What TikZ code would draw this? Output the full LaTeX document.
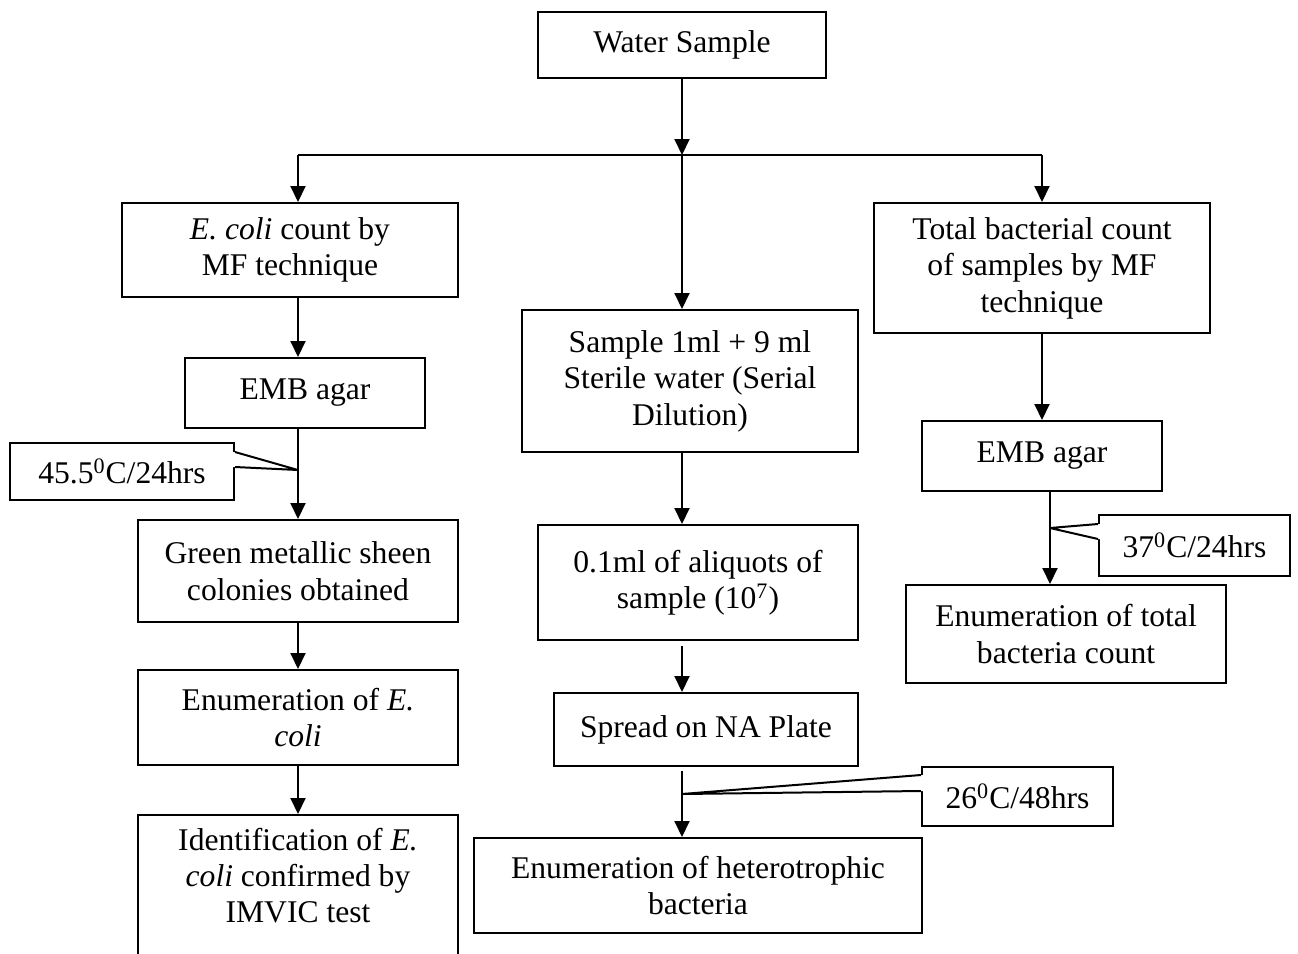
\documentclass[tikz,border=0pt]{standalone}
\usepackage{fontspec}
\setmainfont{Liberation Serif}
\usetikzlibrary{arrows.meta,calc}
\tikzset{
  stepbox/.style={draw=black,line width=1pt,fill=white,align=center,inner sep=0pt,font=\fontsize{15.8}{18.2}\selectfont},
  tempbox/.style={stepbox},
  arr/.style={-{Triangle[length=8pt,width=7.5pt]},line width=1pt},
  link/.style={line width=1pt,line join=round}
}
\begin{document}
\begin{tikzpicture}[x=0.5pt,y=-0.5pt]
\path[use as bounding box,fill=white] (0,0) rectangle (1298,954);
\clip (0,0) rectangle (1298,954);

\coordinate (colL) at (298,0);
\coordinate (colM) at (682,0);
\coordinate (colR) at (1042,0);
\coordinate (split) at (682,155);
\coordinate (splitL) at (298,155);
\coordinate (splitR) at (1042,155);
\coordinate (tip1) at (298,470);
\coordinate (tip2) at (1050,528);
\coordinate (tip3) at (682,794);

\node[stepbox,minimum width=144pt,minimum height=33pt] (ws) at (682,45) {Water Sample};

\node[stepbox,minimum width=168pt,minimum height=47pt] (ecoli) at (290,250) {\textit{E. coli} count by\\ MF technique};
\node[stepbox,minimum width=120pt,minimum height=35pt] (emb1) at (305,393) {EMB agar};
\node[tempbox,minimum width=112pt,minimum height=28.5pt] (t1) at (122,471.5) {45.5\textsuperscript{0}C/24hrs};
\node[stepbox,minimum width=160pt,minimum height=51pt] (green) at (298,571) {Green metallic sheen\\ colonies obtained};
\node[stepbox,minimum width=160pt,minimum height=47.5pt] (enum1) at (298,717.5) {Enumeration of \textit{E.}\\ \textit{coli}};
\node[stepbox,minimum width=160pt,minimum height=84pt] (ident) at (298,899) {Identification of \textit{E.}\\ \textit{coli} confirmed by\\ IMVIC test\\ \strut};

\node[stepbox,minimum width=168pt,minimum height=71pt] (dil) at (690,381) {Sample 1ml + 9 ml\\ Sterile water (Serial\\ Dilution)};
\node[stepbox,minimum width=160pt,minimum height=57.5pt] (aliq) at (698,582.5) {0.1ml of aliquots of\\ sample (10\textsuperscript{7})};
\node[stepbox,minimum width=152pt,minimum height=36.5pt] (spread) at (706,729.5) {Spread on NA Plate};
\node[tempbox,minimum width=95.5pt,minimum height=29.5pt] (t3) at (1017.5,796.5) {26\textsuperscript{0}C/48hrs};
\node[stepbox,minimum width=224pt,minimum height=47.5pt] (het) at (698,885.5) {Enumeration of heterotrophic\\ bacteria};

\node[stepbox,minimum width=168pt,minimum height=65pt] (total) at (1042,268) {Total bacterial count\\ of samples by MF\\ technique};
\node[stepbox,minimum width=120pt,minimum height=35pt] (emb2) at (1042,456) {EMB agar};
\node[tempbox,minimum width=95.5pt,minimum height=30.5pt] (t2) at (1194.5,545.5) {37\textsuperscript{0}C/24hrs};
\node[stepbox,minimum width=160pt,minimum height=49pt] (enum2) at (1066,634) {Enumeration of total\\ bacteria count};

\fill[white] ($(t1.north east)+(-4,10)$) -- ($(t1.north east)+(0,10)$) -- (tip1) -- ($(t1.north east)+(0,25)$) -- ($(t1.north east)+(-4,25)$) -- cycle;
\draw[link] ($(t1.north east)+(0,10)$) -- (tip1) -- ($(t1.north east)+(0,25)$);
\fill[white] ($(t2.north west)+(4,10)$) -- ($(t2.north west)+(0,10)$) -- (tip2) -- ($(t2.north west)+(0,25)$) -- ($(t2.north west)+(4,25)$) -- cycle;
\draw[link] ($(t2.north west)+(0,10)$) -- (tip2) -- ($(t2.north west)+(0,25)$);
\fill[white] ($(t3.north west)+(4,9)$) -- ($(t3.north west)+(0,9)$) -- (tip3) -- ($(t3.north west)+(0,25)$) -- ($(t3.north west)+(4,25)$) -- cycle;
\draw[link] ($(t3.north west)+(0,9)$) -- (tip3) -- ($(t3.north west)+(0,25)$);

\draw[arr] (ws.south -| colM) -- (split);
\draw[link] (splitL) -- (splitR);
\draw[arr] (splitL) -- (ecoli.north -| colL);
\draw[arr] (split) -- (dil.north -| colM);
\draw[arr] (splitR) -- (total.north -| colR);

\draw[arr] (ecoli.south -| colL) -- (emb1.north -| colL);
\draw[arr] (emb1.south -| colL) -- (green.north -| colL);
\draw[arr] (green.south -| colL) -- (enum1.north -| colL);
\draw[arr] (enum1.south -| colL) -- (ident.north -| colL);

\draw[arr] (dil.south -| colM) -- (aliq.north -| colM);
\draw[arr] ($(aliq.south -| colM)+(0,5)$) -- (spread.north -| colM);
\draw[arr] ($(spread.south -| colM)+(0,4)$) -- (het.north -| colM);

\draw[arr] (total.south -| colR) -- (emb2.north -| colR);
\draw[arr] (emb2.south -| tip2) -- (enum2.north -| tip2);
\end{tikzpicture}
\end{document}
